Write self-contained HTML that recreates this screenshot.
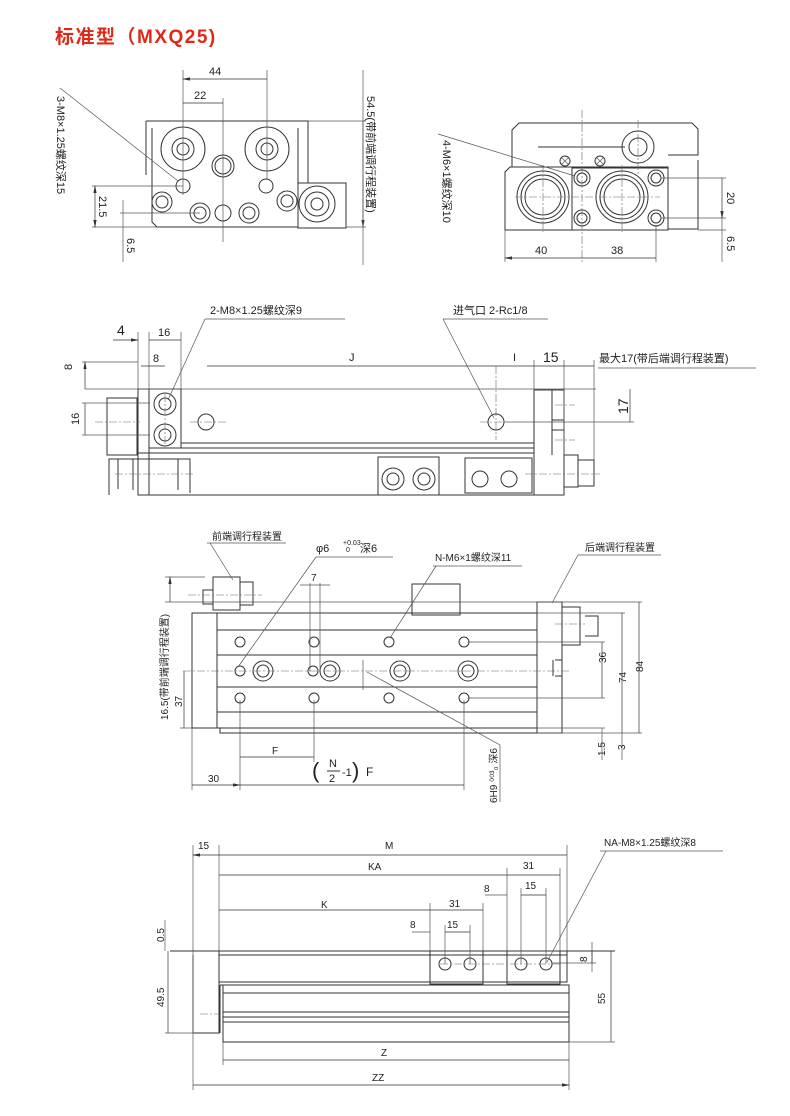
<!DOCTYPE html>
<html><head><meta charset="utf-8"><style>
body{margin:0;background:#fff}
svg{display:block}
text{font-family:"Liberation Sans","Noto Sans CJK SC",sans-serif;font-size:11px;fill:#222}
.l{stroke:#333;stroke-width:1;fill:none}
.t{stroke:#555;stroke-width:.7;fill:none}
.c{stroke:#666;stroke-width:.6;fill:none;stroke-dasharray:8 2 2 2}
.d{stroke:#333;stroke-width:.7;fill:none;marker-start:url(#a);marker-end:url(#a)}
</style></head><body>
<svg width="790" height="1116" viewBox="0 0 790 1116" xmlns="http://www.w3.org/2000/svg">
<defs><marker id="a" viewBox="-4 -2 8 4" markerWidth="8" markerHeight="4" orient="auto-start-reverse" refX="3" refY="0" markerUnits="userSpaceOnUse"><path d="M4,0 L-4,-1.6 L-4,1.6Z" fill="#333"/></marker></defs>

<text x="55" y="43" style="font-size:19px;font-weight:bold;fill:#e02818;letter-spacing:1.5px">标准型（MXQ25)</text>

<!-- VIEW 1 -->
<g>
<path class="l" d="M146,121 H308 V183 M146,121 V175 M152,128 V222 L157,227 H298 V128"/>
<rect class="l" x="298" y="183" width="48" height="45"/>
<circle class="l" cx="183" cy="149" r="22"/><circle class="l" cx="183" cy="149" r="11"/><circle class="l" cx="183" cy="149" r="6"/>
<circle class="l" cx="267" cy="149" r="22"/><circle class="l" cx="267" cy="149" r="11"/><circle class="l" cx="267" cy="149" r="6"/>
<circle class="l" cx="223" cy="166" r="11"/><circle class="l" cx="223" cy="166" r="8"/>
<circle class="l" cx="183" cy="186" r="7"/><circle class="l" cx="266" cy="186" r="7"/>
<circle class="l" cx="162" cy="202" r="10"/><circle class="l" cx="162" cy="202" r="6"/>
<circle class="l" cx="287" cy="201" r="10"/><circle class="l" cx="287" cy="201" r="6"/>
<circle class="l" cx="200" cy="213" r="10"/><circle class="l" cx="200" cy="213" r="6"/>
<circle class="l" cx="223" cy="213" r="8"/>
<circle class="l" cx="249" cy="213" r="10"/><circle class="l" cx="249" cy="213" r="6"/>
<circle class="l" cx="317" cy="204" r="18"/><circle class="l" cx="317" cy="204" r="12"/><circle class="l" cx="317" cy="204" r="6"/>
<path class="t" d="M183,70 V195 M267,70 V180 M223,98 V242 M308,121 H366 M346,227 H366"/>
<path class="d" d="M183,79 H267 M183,103 H223 M363,121 V227"/>
<path class="t" d="M363,70 V265 M92,186 H183 M92,227 H157 M120,213 H200"/>
<path class="d" d="M95,186 V227"/>
<path class="t" d="M123,200 V262"/>
<text x="209" y="75">44</text><text x="194" y="99">22</text>
<text transform="translate(99,196) rotate(90)">21.5</text>
<text transform="translate(127,238) rotate(90)">6.5</text>
<path class="t" d="M60,88 L178,181"/>
<text transform="translate(57,96) rotate(90)">3-M8×1.25螺纹深15</text>
<text transform="translate(367,96) rotate(90)">54.5(带前端调行程装置)</text>
</g>

<!-- VIEW 2 -->
<g>
<path class="l" d="M512,167 V130 L519,123 H692 L698,129 V155 H668 M538,147 H625"/>
<path class="l" d="M505,230 V172 L510,167 H668 V230 Z M668,229 H698 V160"/>
<rect class="l" x="572" y="168" width="96" height="62"/>
<circle class="l" cx="543" cy="197" r="26"/><circle class="l" cx="543" cy="197" r="22"/><circle class="l" cx="543" cy="197" r="18"/>
<circle class="l" cx="622" cy="197" r="26"/><circle class="l" cx="622" cy="197" r="22"/><circle class="l" cx="622" cy="197" r="18"/>
<circle class="l" cx="582" cy="178" r="8"/><circle class="l" cx="582" cy="178" r="5"/>
<circle class="l" cx="582" cy="218" r="8"/><circle class="l" cx="582" cy="218" r="5"/>
<circle class="l" cx="656" cy="178" r="8"/><circle class="l" cx="656" cy="178" r="5"/>
<circle class="l" cx="656" cy="218" r="8"/><circle class="l" cx="656" cy="218" r="5"/>
<circle class="l" cx="638" cy="147" r="16"/><circle class="l" cx="638" cy="147" r="9"/>
<circle class="l" cx="565" cy="161" r="5"/><circle class="l" cx="600" cy="161" r="5"/>
<path class="t" d="M562,158 l6,6 M568,158 l-6,6 M597,158 l6,6 M603,158 l-6,6"/>
<path class="c" d="M582,110 V262 M515,197 H660 M543,165 V232 M622,165 V232 M638,120 V175"/>
<path class="t" d="M505,230 V262 M656,225 V262 M662,178 H726 M662,218 H726 M698,230 H726"/>
<path class="d" d="M505,258 H582 M582,258 H656 M722,178 V218"/>
<path class="t" d="M722,218 V262"/>
<text x="535" y="254">40</text><text x="611" y="254">38</text>
<text transform="translate(727,192) rotate(90)">20</text>
<text transform="translate(727,236) rotate(90)">6.5</text>
<path class="t" d="M438,134 L575,176"/>
<text transform="translate(443,140) rotate(90)">4-M6×1螺纹深10</text>
</g>

<!-- VIEW 3 -->
<g>
<rect class="l" x="107" y="398" width="30" height="57"/>
<rect class="l" x="138" y="389" width="11" height="106"/>
<rect class="l" x="149" y="389" width="32" height="59"/>
<circle class="l" cx="165" cy="404" r="11"/><circle class="l" cx="165" cy="404" r="6"/>
<circle class="l" cx="165" cy="435" r="11"/><circle class="l" cx="165" cy="435" r="6"/>
<path class="l" d="M181,443 H534 M181,448 H534"/>
<circle class="l" cx="206" cy="422" r="8"/><circle class="l" cx="496" cy="422" r="8"/>
<rect class="l" x="138" y="453" width="396" height="42"/>
<path class="l" d="M109,495 V459 H190 V493 M118,459 V489 M133,459 V490 M178,459 V490"/>
<rect class="l" x="534" y="390" width="30" height="105"/>
<path class="l" d="M552,390 V455 M552,420 H564 M552,430 H564"/>
<rect class="l" x="564" y="455" width="14" height="32"/><rect class="l" x="578" y="460" width="16" height="26"/>
<rect class="l" x="378" y="457" width="61" height="38"/>
<circle class="l" cx="393" cy="479" r="11"/><circle class="l" cx="393" cy="479" r="6"/>
<circle class="l" cx="424" cy="479" r="11"/><circle class="l" cx="424" cy="479" r="6"/>
<rect class="l" x="465" y="458" width="67" height="35"/>
<circle class="l" cx="480" cy="479" r="8"/><circle class="l" cx="509" cy="479" r="8"/>
<path class="c" d="M115,474 H195 M95,422 H140 M190,422 H226 M480,422 H505 M525,474 H600 M165,394 V445 M496,366 V440 M555,405 H575 M555,440 H575"/>
<path class="t" d="M85,389 H596 M82,362 H138 M82,403 H150 M82,435 H150 M138,332 V389 M149,332 V389 M181,332 V389 M534,360 V390 M564,360 V455 M594,360 V460 M505,422 H634"/>
<path class="d" d="M85,362 V389 M85,403 V435 M149,340 H181 M141,366 H165 M207,366 H496 M496,366 H534 M534,366 H564 M564,366 H594 M630,389 V422 M113,340 H138"/>
<text x="117" y="335" style="font-size:14px">4</text><text x="158" y="336">16</text>
<text x="153" y="362">8</text><text x="349" y="361">J</text><text x="513" y="361">I</text>
<text x="543" y="362" style="font-size:14px">15</text>
<text x="599" y="362">最大17(带后端调行程装置)</text>
<path class="t" d="M598,368 H756"/>
<text transform="translate(72,370) rotate(-90)">8</text>
<text transform="translate(79,425) rotate(-90)">16</text>
<text transform="translate(628,414) rotate(-90)" style="font-size:14px">17</text>
<text x="210" y="314">2-M8×1.25螺纹深9</text>
<path class="t" d="M205,319 H345 M205,319 L168,400"/>
<text x="453" y="314">进气口 2-Rc1/8</text>
<path class="t" d="M443,319 H548 M443,319 L494,418"/>
</g>

<!-- VIEW 4 -->
<g>
<path class="l" d="M192,613 H537 V728 H192 Z M217,613 V728 M217,630 H537 M217,655 H537 M217,687 H537 M217,712 H537 M220,728 V733 H537"/>
<rect class="l" x="412" y="584" width="48" height="31"/>
<rect class="l" x="537" y="602" width="25" height="131"/>
<path class="l" d="M562,607 H580 V645 H562 M585,616 H598 V636 H585 M555,660 H562 M555,676 H562 M553,660 V676"/>
<path class="l" d="M203,590 H213 V604 H203 Z M213,577 H240 V610 H213 Z M240,582 H253 V605 H240"/>
<g class="l">
<circle cx="240" cy="642" r="5"/><circle cx="314" cy="642" r="5"/><circle cx="389" cy="642" r="5"/><circle cx="464" cy="642" r="5"/>
<circle cx="240" cy="698" r="5"/><circle cx="314" cy="698" r="5"/><circle cx="389" cy="698" r="5"/><circle cx="464" cy="698" r="5"/>
<circle cx="240" cy="671" r="5"/><circle cx="313" cy="671" r="5"/>
<circle cx="263" cy="671" r="10"/><circle cx="263" cy="671" r="6"/>
<circle cx="330" cy="671" r="10"/><circle cx="330" cy="671" r="6"/>
<circle cx="400" cy="671" r="10"/><circle cx="400" cy="671" r="6"/>
<circle cx="468" cy="671" r="10"/><circle cx="468" cy="671" r="6"/>
</g>
<path class="c" d="M183,671 H570 M188,595 H262 M555,624 H585"/>
<path class="t" d="M165,602 H642 M165,577 H205 M180,728 H192 M468,642 H605 M468,698 H605 M537,613 H625 M537,728 H605 M537,733 H642 M240,700 V790 M314,700 V762 M464,700 V790 M192,728 V790 M310,583 V671 M320,583 V671 M363,660 V690"/>
<path class="d" d="M170,577 V602 M184,671 V728 M602,642 V698 M622,613 V733 M639,602 V733 M240,757 H314 M240,785 H464 M192,785 H240"/>
<path class="t" d="M300,585 H330 M602,728 V760 M622,733 V760"/>
<text x="311" y="581" style="font-size:10px">7</text>
<text transform="translate(606,663) rotate(-90)" style="font-size:10px">36</text>
<text transform="translate(626,683) rotate(-90)" style="font-size:10px">74</text>
<text transform="translate(643,672) rotate(-90)" style="font-size:10px">84</text>
<text transform="translate(605,756) rotate(-90)" style="font-size:10px">1.5</text>
<text transform="translate(625,750) rotate(-90)" style="font-size:10px">3</text>
<text transform="translate(182,707) rotate(-90)" style="font-size:10px">37</text>
<text transform="translate(168,720) rotate(-90)" style="font-size:10px">16.5(带前端调行程装置)</text>
<text x="272" y="754" style="font-size:10px">F</text>
<text x="208" y="782" style="font-size:10px">30</text>
<text x="312" y="778" style="font-size:22px">(</text>
<text x="329" y="767" style="font-size:11px">N</text><path class="l" d="M327,771 H340"/><text x="329" y="782" style="font-size:11px">2</text>
<text x="342" y="776" style="font-size:11px">-1</text>
<text x="352" y="778" style="font-size:22px">)</text>
<text x="366" y="776" style="font-size:12px">F</text>
<text transform="translate(497,803) rotate(-90)" style="font-size:10px">6H9 ⁰⁰³₀ 深6</text>
<path class="t" d="M367,672 L500,745 V802"/>
<text x="212" y="540" style="font-size:10px">前端调行程装置</text>
<path class="t" d="M207,543 H286 M210,543 L233,580"/>
<text x="316" y="552" style="font-size:11px">φ6</text>
<text x="343" y="545" style="font-size:7px">+0.03</text><text x="346" y="552" style="font-size:7px">0</text>
<text x="360" y="552" style="font-size:11px">深6</text>
<path class="t" d="M316,557 H393 M316,557 L238,667"/>
<text x="435" y="561" style="font-size:10px">N-M6×1螺纹深11</text>
<path class="t" d="M433,566 H522 M436,566 L390,638"/>
<text x="585" y="551" style="font-size:10px">后端调行程装置</text>
<path class="t" d="M578,555 H661 M578,555 L552,603"/>
</g>

<!-- VIEW 5 -->
<g>
<path class="l" d="M170,951 H615 M193,955 V1033 H219 V951 M219,951 V982 H567 V951 M219,955 H567"/>
<rect class="l" x="430" y="951" width="53" height="33"/>
<rect class="l" x="507" y="951" width="53" height="33"/>
<g class="l"><circle cx="445" cy="964" r="6"/><circle cx="470" cy="964" r="6"/><circle cx="521" cy="964" r="6"/><circle cx="546" cy="964" r="6"/></g>
<path class="l" d="M220,985 H569 V1042 H223 V985 M220,985 V1033 M223,993 H569 M223,1012 H569 M223,1017 H569 M223,1022 H569"/>
<path class="c" d="M200,1014 H220 M440,964 H560"/>
<path class="t" d="M193,845 V1090 M219,845 V951 M567,845 V951 M507,868 V951 M560,868 V951 M430,903 V951 M483,903 V951 M412,932 H430 M485,895 H507 M445,925 V964 M470,925 V964 M521,888 V964 M546,888 V964 M165,1033 H193 M165,920 V951 M569,1042 V1090 M223,1042 V1065 M552,963 H596 M569,1042 H615 M592,942 V972"/>
<path class="d" d="M193,855 H219 M219,855 H567 M219,875 H507 M507,875 H560 M219,910 H430 M430,910 H483 M445,932 H470 M521,895 H546 M168,951 V1033 M592,951 V963 M611,951 V1042 M223,1060 H569 M193,1085 H569"/>
<text x="198" y="849" style="font-size:10px">15</text><text x="385" y="849" style="font-size:10px">M</text>
<text x="368" y="870" style="font-size:10px">KA</text><text x="523" y="869" style="font-size:10px">31</text>
<text x="484" y="892" style="font-size:10px">8</text><text x="525" y="889" style="font-size:10px">15</text>
<text x="321" y="908" style="font-size:10px">K</text><text x="449" y="907" style="font-size:10px">31</text>
<text x="410" y="928" style="font-size:10px">8</text><text x="447" y="928" style="font-size:10px">15</text>
<text x="381" y="1056" style="font-size:10px">Z</text><text x="372" y="1081" style="font-size:10px">ZZ</text>
<text transform="translate(164,942) rotate(-90)" style="font-size:10px">0.5</text>
<text transform="translate(164,1007) rotate(-90)" style="font-size:10px">49.5</text>
<text transform="translate(587,962) rotate(-90)" style="font-size:10px">8</text>
<text transform="translate(605,1004) rotate(-90)" style="font-size:10px">55</text>
<text x="604" y="846" style="font-size:10px">NA-M8×1.25螺纹深8</text>
<path class="t" d="M600,851 H723 M606,851 L547,962"/>
</g>
</svg>
</body></html>
